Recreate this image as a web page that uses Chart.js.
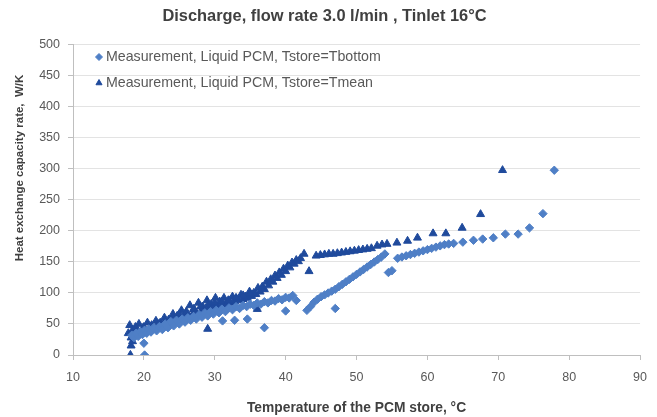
<!DOCTYPE html>
<html>
<head>
<meta charset="utf-8">
<title>Discharge, flow rate 3.0 l/min</title>
<script src="https://cdn.jsdelivr.net/npm/chart.js@4/dist/chart.umd.min.js"></script>
<style>
	html, body { margin: 0; padding: 0; background: #fff; }
	#graficoDescarga { display: block; }
</style>
</head>
<body>
<canvas id="graficoDescarga" width="657" height="417"></canvas>
<script>
// Measurement, Liquid PCM, Tstore=Tbottom (diamonds)
var tbottomTemp = [
	20.1, 20.0, 18.3, 18.6, 18.9, 19.2, 19.5, 19.8, 20.1, 20.4, 20.7, 21.0, 21.4, 21.8, 22.2, 22.6,
	23.0, 23.4, 23.8, 24.2, 24.6, 25.0, 25.4, 25.8, 26.2, 26.6, 27.0, 27.4, 27.8, 28.2, 28.6, 29.0,
	29.4, 29.8, 30.2, 30.6, 31.1, 32.8, 34.6, 31.0, 31.5, 32.0, 32.5, 33.0, 33.5, 34.0, 34.5, 35.0,
	35.5, 36.0, 36.5, 37.0, 37.0, 37.5, 38.0, 38.5, 39.0, 39.5, 40.0, 40.0, 40.5, 41.0, 41.5,
	43.0, 43.5, 44.0, 44.5, 45.0, 45.5, 46.0, 46.5, 47.0, 47.5, 48.0, 48.5, 49.0, 49.5, 50.0, 50.5,
	51.0, 51.5, 52.0, 52.5, 53.0, 53.5, 54.0, 47.0, 54.5, 55.0,
	55.8, 56.4, 57.0, 57.6, 58.2, 58.8, 59.4, 60.0, 60.6, 61.2, 61.8, 62.4, 63.0, 63.7, 65.0, 66.5,
	67.8, 69.3, 71.0, 72.8, 74.4, 76.3, 77.9
];
var tbottomRate = [
	0, 19, 32, 28, 35, 30, 38, 33, 40, 35, 42, 37, 44, 39, 46, 41,
	50, 44, 54, 47, 56, 50, 58, 53, 60, 56, 62, 58, 65, 61, 68, 63,
	70, 66, 72, 68, 55, 56, 58, 74, 70, 76, 73, 78, 75, 80, 78, 82,
	80, 84, 82, 44, 86, 84, 88, 87, 91, 89, 71, 93, 92, 96, 88,
	72, 78, 85, 90, 94, 97, 100, 103, 106, 110, 114, 118, 122, 126, 130, 134,
	138, 142, 146, 150, 154, 158, 163, 75, 133, 136,
	156, 158, 160, 162, 164, 166, 168, 170, 172, 174, 176, 178, 179, 180, 182, 185,
	187, 189, 195, 195, 205, 228, 298
];

// Measurement, Liquid PCM, Tstore=Tmean (triangles)
var tmeanTemp = [
	18.1, 18.2, 18.4, 29.0, 36.0,
	17.8, 18.0, 18.2, 18.4, 18.6, 18.8, 19.0, 19.3, 19.6, 19.9, 20.2, 20.5, 20.8, 21.1, 21.4, 21.7,
	22.0, 22.3, 22.6, 22.9, 23.2, 23.5, 23.8, 24.1, 24.4, 24.7, 25.0, 25.3, 25.6, 25.9, 26.2, 26.5,
	26.8, 27.1, 27.4, 27.7, 28.0, 28.3, 28.6, 28.9, 29.2, 29.5, 29.8, 30.1, 30.4, 30.7, 31.0, 31.3,
	31.6, 31.9, 32.2, 32.5, 32.8, 33.1, 33.4, 33.7, 34.0, 34.3, 34.6, 34.9, 35.2, 35.5, 35.8, 36.1,
	36.4, 36.7, 37.0, 37.3, 37.6, 37.9, 38.2, 38.5, 38.8, 39.1, 39.4, 39.7, 40.0, 40.3, 40.6, 40.9,
	41.2, 41.5, 41.8, 42.1,
	19.1, 20.0, 21.0, 22.0, 23.0, 24.0, 25.0, 26.0, 27.0, 28.0, 29.0, 30.0, 31.0, 32.0, 33.0, 34.0, 35.0,
	42.6, 43.3, 44.3, 44.9, 45.5, 46.1, 46.7, 47.3, 47.9, 48.5, 49.1, 49.7, 50.3, 50.9, 51.5, 52.1,
	52.9, 53.6, 54.3, 55.7, 57.2, 58.6, 60.8, 62.6, 64.9, 67.5, 70.6
];
var tmeanRate = [
	0, 15, 22, 42, 74,
	35, 48, 28, 40, 30, 45, 33, 50, 36, 44, 38, 52, 40, 48, 42, 55,
	44, 52, 47, 60, 49, 57, 52, 66, 54, 63, 57, 72, 59, 68, 62, 80,
	64, 74, 67, 84, 69, 78, 72, 88, 74, 82, 76, 92, 78, 86, 80, 92,
	82, 88, 84, 94, 86, 90, 88, 97, 90, 94, 92, 102, 95, 100, 98, 108,
	102, 110, 106, 118, 112, 122, 118, 128, 124, 133, 129, 139, 135, 144, 141, 149,
	147, 153, 151, 156,
	40, 45, 46, 50, 55, 60, 66, 70, 74, 78, 80, 84, 86, 88, 92, 96, 99,
	163, 135, 160, 161, 162, 163, 163, 164, 165, 166, 167, 168, 169, 170, 171, 172,
	176, 178, 179, 181, 184, 189, 196, 196, 205, 227, 298
];

var chartTitle = 'Discharge, flow rate 3.0 l/min , Tinlet 16\u00b0C';
var xTitle = 'Temperature of the PCM store, \u00b0C';
var yTitle = 'Heat exchange capacity rate,  W/K';
var seriesNames = [
	'Measurement, Liquid PCM, Tstore=Tbottom',
	'Measurement, Liquid PCM, Tstore=Tmean'
];

var Grafico = Grafico || {};

Grafico.Descarga = (function() {

	var FONTE = '"Liberation Sans", Arial, sans-serif';

	function Descarga() {
		this.ctx = document.getElementById('graficoDescarga').getContext('2d');
	}

	function pontos(xs, ys) {
		var lista = [];
		xs.forEach(function(x, i) {
			lista.push({ x: x, y: ys[i] });
		});
		return lista;
	}

	// legend inside the plot area (top left) and the y title, which sits
	// above the middle of the axis in the original
	var textosInternos = {
		id: 'textosInternos',
		afterDraw: function(chart) {
			var ctx = chart.ctx;
			var linhas = [57, 83];
			ctx.save();
			chart.data.datasets.forEach(function(ds, i) {
				var y = linhas[i];
				ctx.fillStyle = ds.backgroundColor;
				ctx.strokeStyle = ds.borderColor;
				ctx.lineWidth = 1;
				Chart.helpers.drawPoint(ctx, {
					pointStyle: ds.pointStyle,
					radius: 3.5,
					rotation: 0,
					borderWidth: 1
				}, 99, y);
				ctx.fillStyle = '#595959';
				ctx.font = '14.2px ' + FONTE;
				ctx.textBaseline = 'middle';
				ctx.textAlign = 'left';
				ctx.fillText(ds.label, 106, y + 0.5);
			});

			ctx.translate(20, 168);
			ctx.rotate(-Math.PI / 2);
			ctx.fillStyle = '#404040';
			ctx.font = 'bold 11.5px ' + FONTE;
			ctx.textAlign = 'center';
			ctx.textBaseline = 'middle';
			ctx.fillText(yTitle, 0, 0);
			ctx.restore();
		}
	};

	Descarga.prototype.iniciar = function() {
		new Chart(this.ctx, {
			type: 'scatter',
			data: {
				datasets: [{
					label: seriesNames[0],
					data: pontos(tbottomTemp, tbottomRate),
					pointStyle: 'rectRot',
					pointRadius: 4.2,
					backgroundColor: '#4f7fc6',
					borderColor: '#4f7fc6',
					borderWidth: 1
				}, {
					label: seriesNames[1],
					data: pontos(tmeanTemp, tmeanRate),
					pointStyle: 'triangle',
					pointRadius: 4.6,
					backgroundColor: '#1f4a9c',
					borderColor: '#1f4a9c',
					borderWidth: 1
				}]
			},
			options: {
				responsive: false,
				animation: false,
				layout: { padding: { left: 0, right: 8, top: 0, bottom: 0 } },
				plugins: {
					legend: { display: false },
					tooltip: { enabled: false },
					title: {
						display: true,
						text: chartTitle,
						color: '#404040',
						font: { family: FONTE, size: 16.4, weight: 'bold' },
						padding: { top: 7, bottom: 18.3 }
					}
				},
				scales: {
					x: {
						type: 'linear',
						min: 10,
						max: 90,
						afterFit: function(scale) { scale.height = 62; },
						ticks: {
							stepSize: 10,
							color: '#595959',
							padding: 10,
							font: { family: FONTE, size: 12.5 }
						},
						grid: {
							drawOnChartArea: false,
							drawTicks: true,
							tickLength: 5,
							tickColor: '#bfbfbf'
						},
						border: { display: true, color: '#bfbfbf' },
						title: {
							display: true,
							text: xTitle,
							color: '#404040',
							font: { family: FONTE, size: 13.8, weight: 'bold' },
							padding: { top: 4, bottom: 1 }
						}
					},
					y: {
						min: 0,
						max: 500,
						afterFit: function(scale) { scale.width = 73; },
						ticks: {
							stepSize: 50,
							color: '#595959',
							padding: 8,
							font: { family: FONTE, size: 12.5 }
						},
						grid: {
							color: '#e3e3e3',
							drawTicks: true,
							tickLength: 5,
							tickColor: '#bfbfbf'
						},
						border: { display: true, color: '#bfbfbf' }
					}
				}
			},
			plugins: [textosInternos]
		});
	};

	return Descarga;

})();

document.addEventListener('DOMContentLoaded', function() {
	var grafico = new Grafico.Descarga();
	grafico.iniciar();
});
</script>
</body>
</html>
